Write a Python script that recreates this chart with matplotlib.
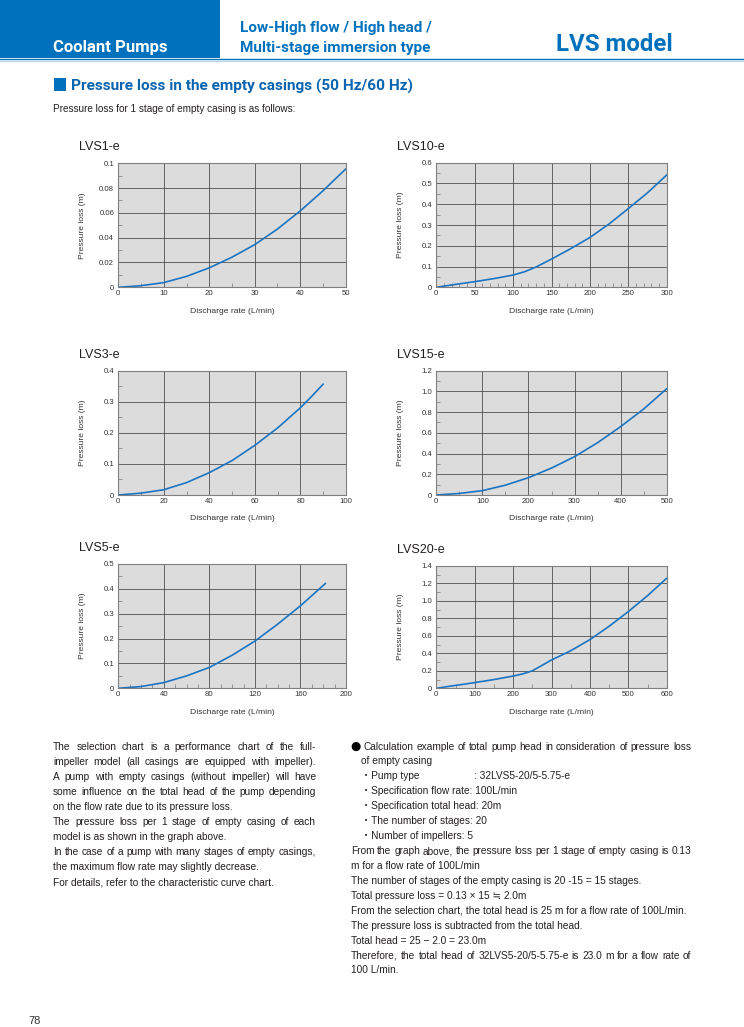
import matplotlib.pyplot as plt
from matplotlib.patches import Rectangle
from matplotlib.lines import Line2D
from matplotlib.ticker import MultipleLocator

W, H = 744, 1027
BLUE = '#0071bc'
CURVE = '#1b74c1'
TXT = '#231f20'
BODY = ['Liberation Sans', 'DejaVu Sans', 'Noto Sans CJK JP']
HEAD = ['Liberation Sans Narrow', 'Roboto', 'DejaVu Sans']

# ---- data ----
lvs1_q = [0, 5, 10, 15, 20, 25, 30, 35, 40, 45, 50]
lvs1_p = [0, 0.0013, 0.0038, 0.0088, 0.0157, 0.0243, 0.0344, 0.047, 0.0616, 0.0778, 0.0954]
lvs1_xt = [0, 10, 20, 30, 40, 50]
lvs1_yt = [0, 0.02, 0.04, 0.06, 0.08, 0.1]
lvs1_yl = ['0', '0.02', '0.04', '0.06', '0.08', '0.1']

lvs10_q = [0, 25, 50, 75, 100, 115, 130, 150, 175, 200, 225, 250, 275, 300]
lvs10_p = [0, 0.014, 0.027, 0.042, 0.059, 0.075, 0.098, 0.136, 0.186, 0.24, 0.305, 0.379, 0.455, 0.541]
lvs10_xt = [0, 50, 100, 150, 200, 250, 300]
lvs10_yt = [0, 0.1, 0.2, 0.3, 0.4, 0.5, 0.6]
lvs10_yl = ['0', '0.1', '0.2', '0.3', '0.4', '0.5', '0.6']

lvs3_q = [0, 10, 20, 30, 40, 50, 60, 70, 80, 85, 90]
lvs3_p = [0, 0.006, 0.017, 0.04, 0.072, 0.111, 0.16, 0.216, 0.281, 0.318, 0.357]
lvs3_xt = [0, 20, 40, 60, 80, 100]
lvs3_yt = [0, 0.1, 0.2, 0.3, 0.4]
lvs3_yl = ['0', '0.1', '0.2', '0.3', '0.4']

lvs15_q = [0, 50, 100, 150, 200, 250, 300, 350, 400, 450, 500]
lvs15_p = [0, 0.015, 0.042, 0.095, 0.167, 0.26, 0.37, 0.505, 0.66, 0.83, 1.026]
lvs15_xt = [0, 100, 200, 300, 400, 500]
lvs15_yt = [0, 0.2, 0.4, 0.6, 0.8, 1.0, 1.2]
lvs15_yl = ['0', '0.2', '0.4', '0.6', '0.8', '1.0', '1.2']

lvs5_q = [0, 20, 40, 60, 80, 100, 120, 140, 160, 182]
lvs5_p = [0, 0.007, 0.023, 0.05, 0.084, 0.133, 0.19, 0.258, 0.332, 0.422]
lvs5_xt = [0, 40, 80, 120, 160, 200]
lvs5_yt = [0, 0.1, 0.2, 0.3, 0.4, 0.5]
lvs5_yl = ['0', '0.1', '0.2', '0.3', '0.4', '0.5']

lvs20_q = [0, 50, 100, 150, 200, 225, 250, 300, 350, 400, 450, 500, 550, 600]
lvs20_p = [0, 0.033, 0.065, 0.1, 0.14, 0.165, 0.2, 0.324, 0.43, 0.557, 0.71, 0.878, 1.06, 1.26]
lvs20_xt = [0, 100, 200, 300, 400, 500, 600]
lvs20_yt = [0, 0.2, 0.4, 0.6, 0.8, 1.0, 1.2, 1.4]
lvs20_yl = ['0', '0.2', '0.4', '0.6', '0.8', '1.0', '1.2', '1.4']

left_par = [
    ("The selection chart is a performance chart of the full-", True),
    ("impeller model (all casings are equipped with impeller).", True),
    ("A pump with empty casings (without impeller) will have", True),
    ("some influence on the total head of the pump depending", True),
    ("on the flow rate due to its pressure loss.", False),
    ("The pressure loss per 1 stage of empty casing of each", True),
    ("model is as shown in the graph above.", False),
    ("In the case of a pump with many stages of empty casings,", True),
    ("the maximum flow rate may slightly decrease.", False),
    ("For details, refer to the characteristic curve chart.", False),
]

fig = plt.figure(figsize=(W / 100, H / 100), dpi=100)
renderer = fig.canvas.get_renderer()

BODY_SIZE = 7.25


def ftext(x, y, s, **kw):
    return fig.text(x / W, 1 - y / H, s, **kw)


def text_w(s, size):
    t = ftext(0, 0, s, fontsize=size, family=BODY)
    w = t.get_window_extent(renderer).width
    t.remove()
    return w


def line_out(x0, x1, y, s, justify, size=BODY_SIZE):
    if not justify:
        ftext(x0, y, s, fontsize=size, family=BODY, color=TXT, va='baseline')
        return
    words = s.split(' ')
    widths = [text_w(w, size) for w in words]
    gap = (x1 - x0 - sum(widths)) / (len(words) - 1)
    x = x0
    for w, wd in zip(words, widths):
        ftext(x, y, w, fontsize=size, family=BODY, color=TXT, va='baseline')
        x += wd + gap


# ---- header ----
fig.add_artist(Rectangle((0, 1 - 58 / H), 220 / W, 58 / H, transform=fig.transFigure,
                         color=BLUE, lw=0))
fig.add_artist(Line2D([0, 1], [1 - 58.5 / H] * 2, transform=fig.transFigure, color=BLUE, lw=1))
fig.add_artist(Line2D([0, 1], [1 - 60.5 / H] * 2, transform=fig.transFigure, color='#b9d3ea', lw=0.8))
ftext(53, 52, 'Coolant Pumps', fontsize=12, family=HEAD, weight='bold', color='white', va='baseline')
ftext(240, 32, 'Low-High flow / High head /', fontsize=11, family=HEAD, weight='bold', color=BLUE, va='baseline')
ftext(240, 52, 'Multi-stage immersion type', fontsize=11, family=HEAD, weight='bold', color=BLUE, va='baseline')
ftext(556, 51, 'LVS model', fontsize=17.3, family=HEAD, weight='bold', color=BLUE, va='baseline')

fig.add_artist(Rectangle((54 / W, 1 - 91 / H), 12 / W, 13 / H, transform=fig.transFigure,
                         color=BLUE, lw=0))
ftext(71, 90.5, 'Pressure loss in the empty casings (50 Hz/60 Hz)', fontsize=11.1, family=HEAD,
      weight='bold', color='#0a64b0', va='baseline')
ftext(53, 112, 'Pressure loss for 1 stage of empty casing is as follows:', fontsize=7.2,
      family=BODY, color=TXT, va='baseline')


# ---- charts ----
def chart(box, title, q, p, xt, yt, yl, xminor, yminor):
    l, r, t, b = box
    ax = fig.add_axes([l / W, 1 - b / H, (r - l) / W, (b - t) / H])
    ax.set_facecolor('#dcdcdc')
    ax.plot(q, p, color=CURVE, lw=1.2, solid_capstyle='round')
    ax.set_xlim(xt[0], xt[-1])
    ax.set_ylim(yt[0], yt[-1])
    ax.set_xticks(xt)
    ax.set_xticklabels([str(v) for v in xt])
    ax.set_yticks(yt)
    ax.set_yticklabels(yl)
    ax.xaxis.set_minor_locator(MultipleLocator(xminor))
    ax.yaxis.set_minor_locator(MultipleLocator(yminor))
    ax.grid(True, which='major', color='#444444', lw=0.55)
    ax.set_axisbelow(True)
    ax.tick_params(which='major', length=0, labelsize=5.6, labelcolor='#333333')
    ax.tick_params(axis='x', which='major', pad=2)
    ax.tick_params(axis='y', which='major', pad=3)
    ax.tick_params(which='minor', direction='in', length=3, width=0.5, color='#777777')
    for s in ax.spines.values():
        s.set_color('#808080')
        s.set_linewidth(0.8)
    for lab in ax.get_xticklabels() + ax.get_yticklabels():
        lab.set_family(BODY)
    ax.set_xlabel('Discharge rate (L/min)', fontsize=6.1, family=BODY, color='#333333')
    ax.xaxis.set_label_coords(0.5, -20.5 / (b - t))
    ftext(l - 36, (t + b) / 2, 'Pressure loss (m)', fontsize=6.1, family=BODY, color='#333333',
          rotation=90, ha='center', va='center')
    ftext(l - 39, t - 13, title, fontsize=9, family=BODY, color=TXT, va='baseline')
    return ax


chart((118.3, 345.7, 163.3, 287.3), 'LVS1-e', lvs1_q, lvs1_p, lvs1_xt, lvs1_yt, lvs1_yl, 5, 0.01)
chart((436.3, 666.7, 162.7, 287.3), 'LVS10-e', lvs10_q, lvs10_p, lvs10_xt, lvs10_yt, lvs10_yl, 10, 0.05)
chart((118.3, 346, 370.7, 495), 'LVS3-e', lvs3_q, lvs3_p, lvs3_xt, lvs3_yt, lvs3_yl, 10, 0.05)
chart((436.3, 666.7, 370.7, 495), 'LVS15-e', lvs15_q, lvs15_p, lvs15_xt, lvs15_yt, lvs15_yl, 50, 0.1)
chart((118.3, 346, 564, 688.3), 'LVS5-e', lvs5_q, lvs5_p, lvs5_xt, lvs5_yt, lvs5_yl, 10, 0.05)
chart((436.3, 666.7, 566, 688.3), 'LVS20-e', lvs20_q, lvs20_p, lvs20_xt, lvs20_yt, lvs20_yl, 50, 0.1)

# ---- notes below the charts ----
for i, (s, j) in enumerate(left_par):
    line_out(53, 316, 749.5 + i * 15.1, s, j)

y0, dy = 749.5, 14.93
ftext(350.5, y0 + 0.3, '●', fontsize=8.6, family=['DejaVu Sans'], color='black', va='baseline')
line_out(363.5, 691, y0, 'Calculation example of total pump head in consideration of pressure loss', True)
line_out(361, 691, y0 + dy, 'of empty casing', False)
line_out(361, 691, y0 + 2 * dy, '・Pump type', False)
line_out(474, 691, y0 + 2 * dy, ': 32LVS5-20/5-5.75-e', False)
line_out(361, 691, y0 + 3 * dy, '・Specification flow rate: 100L/min', False)
line_out(361, 691, y0 + 4 * dy, '・Specification total head: 20m', False)
line_out(361, 691, y0 + 5 * dy, '・The number of stages: 20', False)
line_out(361, 691, y0 + 6 * dy, '・Number of impellers: 5', False)
line_out(351, 691, y0 + 7 * dy, 'From the graph above, the pressure loss per 1 stage of empty casing is 0.13', True)
line_out(351, 691, y0 + 8 * dy, 'm for a flow rate of 100L/min', False)
line_out(351, 691, y0 + 9 * dy, 'The number of stages of the empty casing is 20 -15 = 15 stages.', False)
line_out(351, 691, y0 + 10 * dy, 'Total pressure loss = 0.13 × 15 ≒ 2.0m', False)
line_out(351, 691, y0 + 11 * dy, 'From the selection chart, the total head is 25 m for a flow rate of 100L/min.', False)
line_out(351, 691, y0 + 12 * dy, 'The pressure loss is subtracted from the total head.', False)
line_out(351, 691, y0 + 13 * dy, 'Total head = 25 − 2.0 = 23.0m', False)
line_out(351, 691, y0 + 14 * dy, 'Therefore, the total head of 32LVS5-20/5-5.75-e is 23.0 m for a flow rate of', True)
line_out(351, 691, y0 + 15 * dy, '100 L/min.', False)

ftext(28, 1024, '78', fontsize=8, family=BODY, color='#333333', va='baseline')

fig.savefig('out.png', dpi=100)
